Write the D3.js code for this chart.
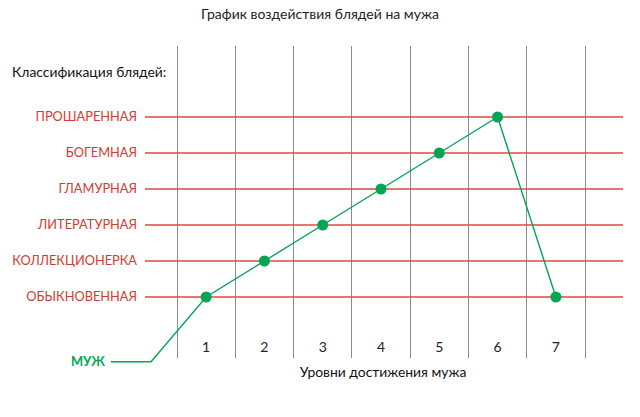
<!DOCTYPE html>
<html><head><meta charset="utf-8">
<script src="https://cdn.jsdelivr.net/npm/d3@7"></script>
<style>body{margin:0;background:#fff}svg{display:block}text{font-family:Lato,"Open Sans",sans-serif}</style>
</head><body><svg id="c" width="640" height="417"></svg>
<script>
const title = "График воздействия блядей на мужа";
const yTitle = "Классификация блядей:";
const xTitle = "Уровни достижения мужа";
const seriesName = "МУЖ";
const levels = [1, 2, 3, 4, 5, 6, 7];
const categories = ["ОБЫКНОВЕННАЯ", "КОЛЛЕКЦИОНЕРКА", "ЛИТЕРАТУРНАЯ", "ГЛАМУРНАЯ", "БОГЕМНАЯ", "ПРОШАРЕННАЯ"];
const values = ["ОБЫКНОВЕННАЯ", "КОЛЛЕКЦИОНЕРКА", "ЛИТЕРАТУРНАЯ", "ГЛАМУРНАЯ", "БОГЕМНАЯ", "ПРОШАРЕННАЯ", "ОБЫКНОВЕННАЯ"];

const RED_LINE = "#e2473f", RED_TEXT = "#d63a30", GREEN = "#03a554", GRID = "#8c8c8c";
const svg = d3.select("#c");

const x = d3.scaleBand().domain(levels).range([177, 585]).paddingInner(0).paddingOuter(0);
const y = d3.scalePoint().domain(categories).range([297, 117]);
const step = y.step();
const xc = d => x(d) + x.bandwidth() / 2;

// vertical grid lines (band edges)
const edges = levels.map(l => x(l)).concat([x(levels[levels.length - 1]) + x.bandwidth()]);
svg.append("g").selectAll("line").data(edges).join("line")
  .attr("x1", d => d).attr("x2", d => d).attr("y1", 46).attr("y2", 358)
  .attr("stroke", GRID).attr("stroke-width", 1).attr("shape-rendering", "crispEdges");

// horizontal red category lines
svg.append("g").selectAll("line").data(categories).join("line")
  .attr("x1", 145).attr("x2", 623).attr("y1", d => y(d)).attr("y2", d => y(d))
  .attr("stroke", RED_LINE).attr("stroke-width", 1.3);

// category labels
svg.append("g").selectAll("text").data(categories).join("text")
  .attr("x", 137).attr("y", d => y(d)).attr("dy", "0.35em").attr("text-anchor", "end")
  .attr("fill", RED_TEXT).attr("font-size", 12.8).text(d => d);

// level labels
svg.append("g").selectAll("text").data(levels).join("text")
  .attr("x", d => xc(d)).attr("y", 352).attr("text-anchor", "middle")
  .attr("fill", "#222").attr("font-size", 14).text(d => d);

// texts
svg.append("text").attr("x", 320).attr("y", 19).attr("text-anchor", "middle")
  .attr("fill", "#222").attr("font-size", 14).text(title);
svg.append("text").attr("x", 12).attr("y", 77)
  .attr("fill", "#111").attr("font-size", 13.9).text(yTitle);
svg.append("text").attr("x", 383).attr("y", 377).attr("text-anchor", "middle")
  .attr("fill", "#111").attr("font-size", 13.9).text(xTitle);

// series line, starting from the "МУЖ" label
const baseY = y(categories[0]) + step * 1.8;
const pts = [[111, baseY], [151, baseY]].concat(levels.map((l, i) => [xc(l), y(values[i])]));
svg.append("path").attr("d", d3.line()(pts)).attr("fill", "none")
  .attr("stroke", GREEN).attr("stroke-width", 1.4);
svg.append("g").selectAll("circle").data(levels).join("circle")
  .attr("cx", d => xc(d)).attr("cy", (d, i) => y(values[i])).attr("r", 5.5).attr("fill", GREEN);
svg.append("text").attr("x", 105).attr("y", baseY).attr("dy", "0.35em").attr("text-anchor", "end")
  .attr("fill", GREEN).attr("font-size", 12.8).attr("font-weight", "bold").text(seriesName);
</script></body></html>
